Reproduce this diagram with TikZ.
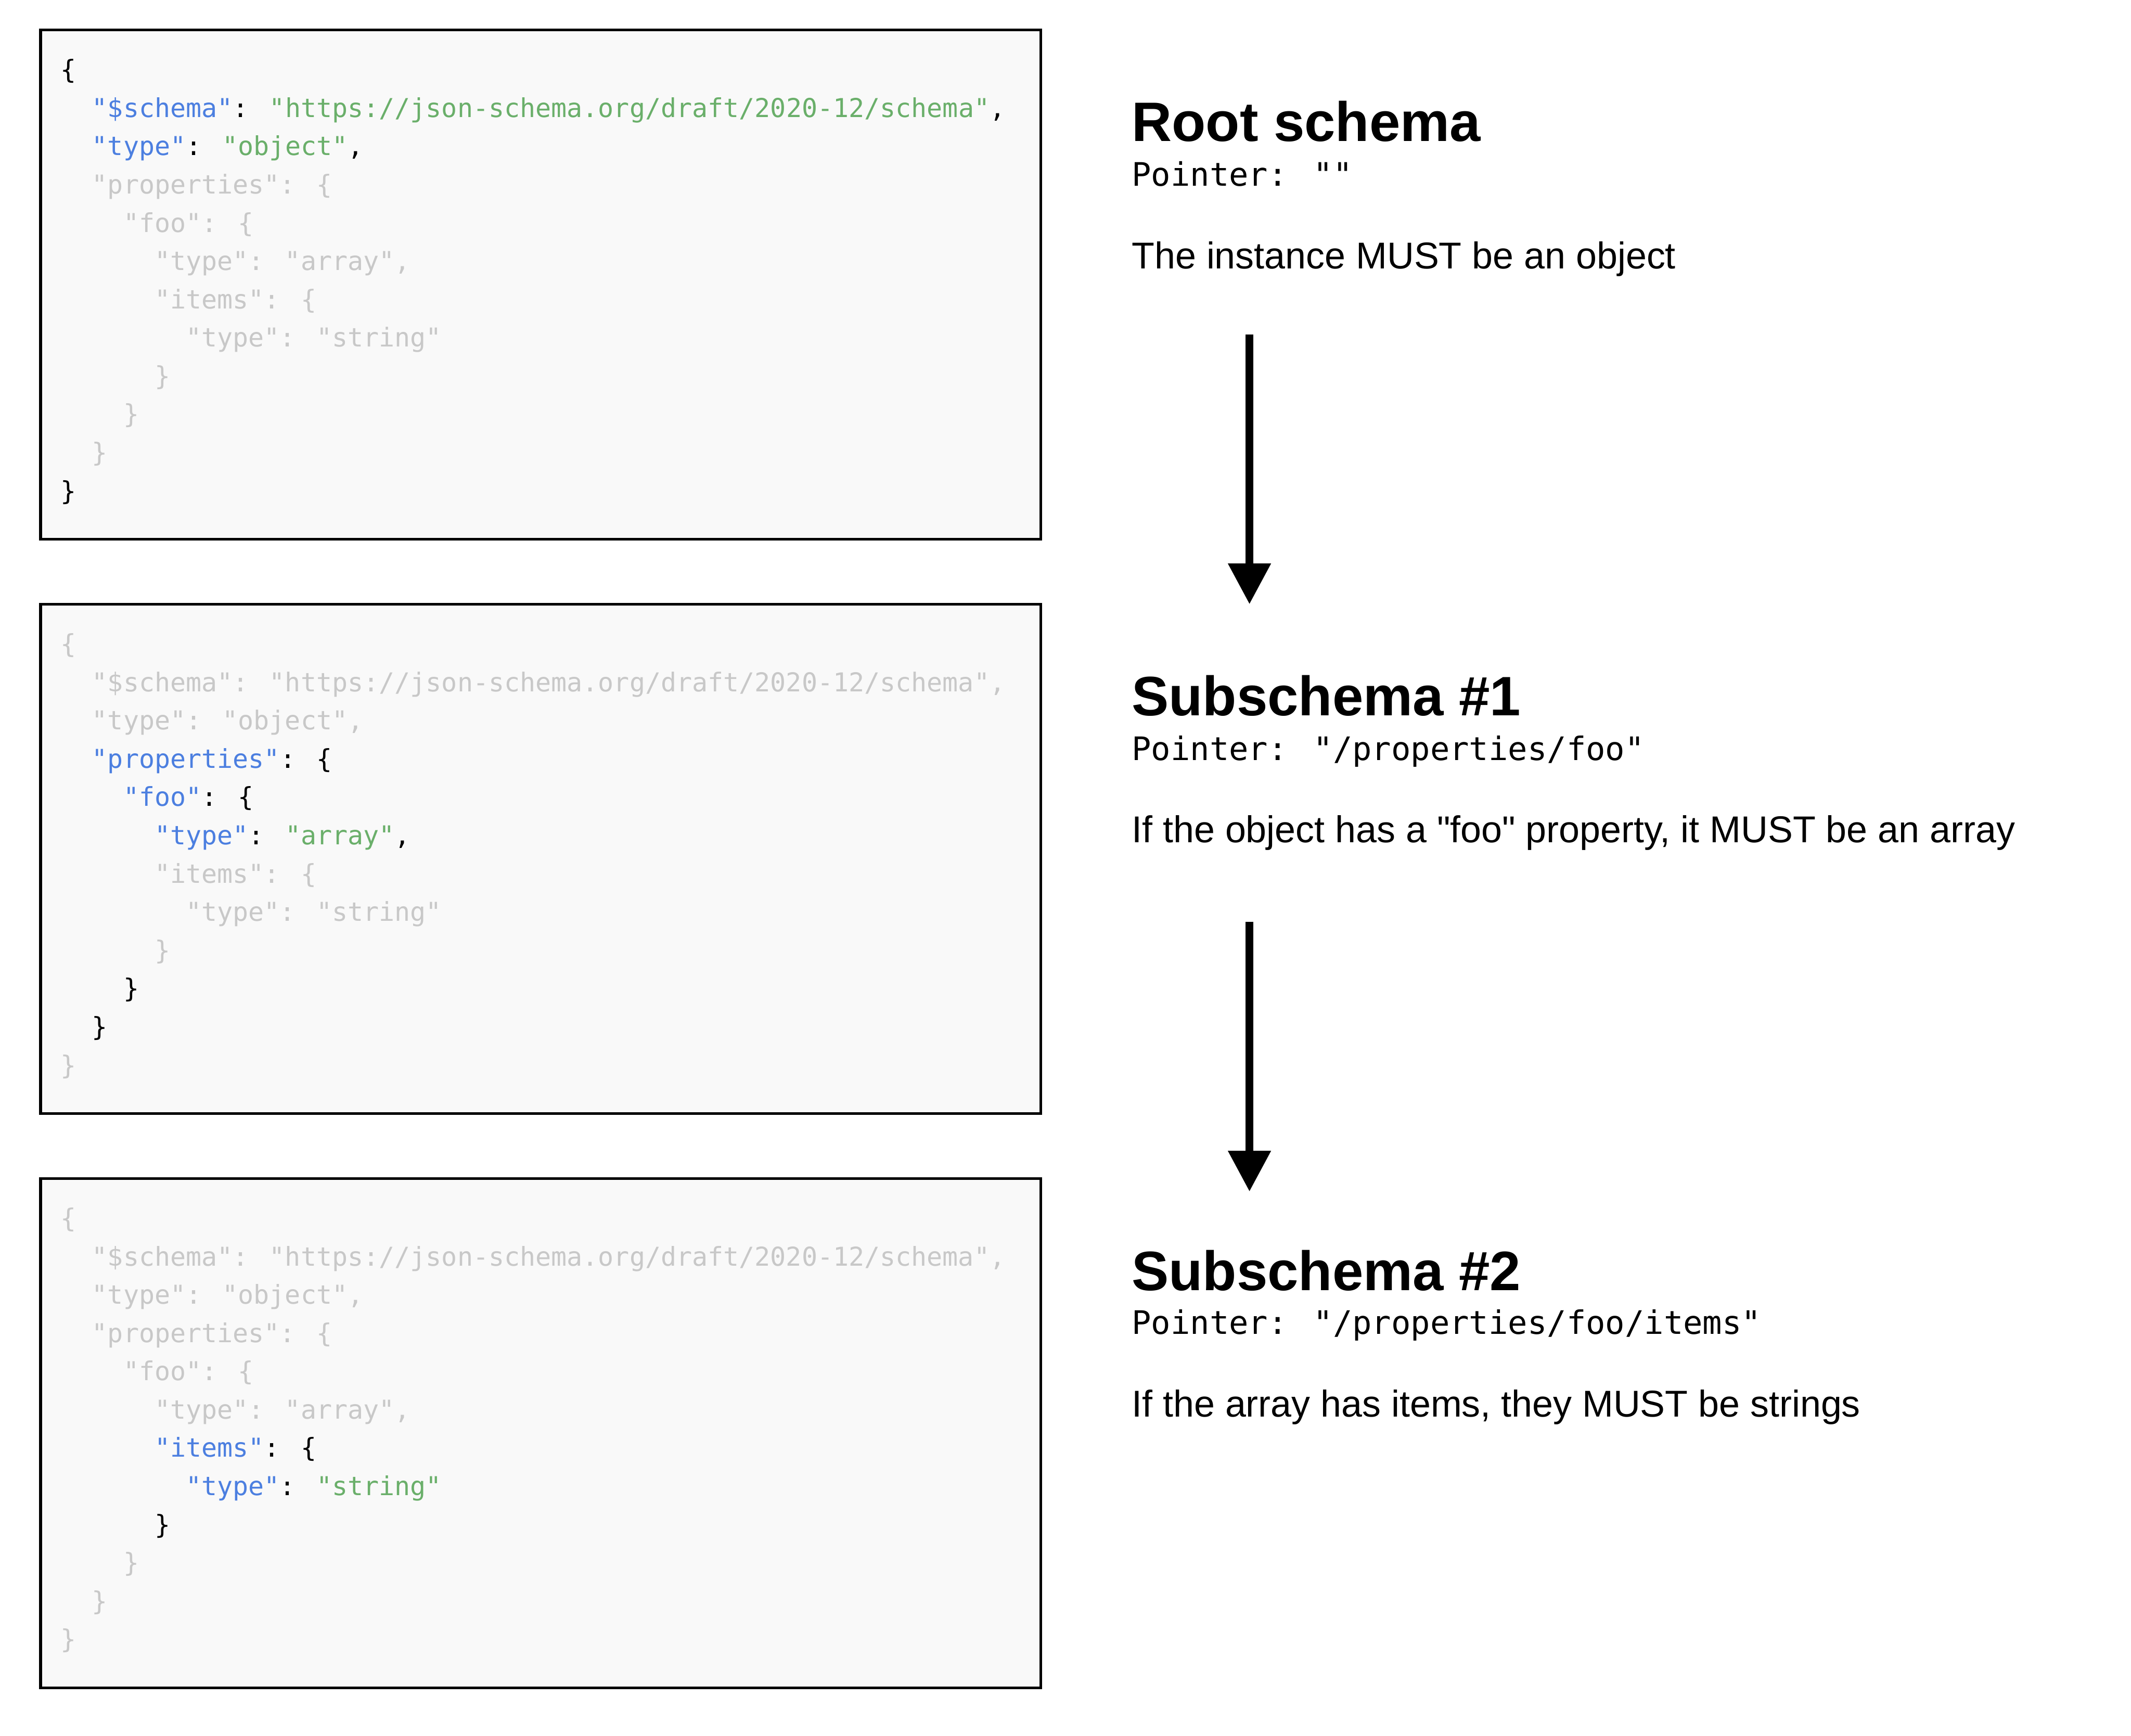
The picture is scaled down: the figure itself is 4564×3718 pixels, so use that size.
\documentclass[tikz,border=0pt]{standalone}
\usepackage{fontspec}
\setmainfont{Liberation Sans}[Ligatures=TeXOff]
\newfontfamily\codefont{DejaVu Sans Mono}[Ligatures=TeXOff]
\usetikzlibrary{arrows.meta}
\definecolor{jkeyc}{HTML}{4C7FE0}
\definecolor{jstrc}{HTML}{6AAF6A}
\definecolor{jgrayc}{HTML}{C8C8C8}
\definecolor{boxfill}{HTML}{F9F9F9}
\newcommand\jk[1]{\textcolor{jkeyc}{#1}}
\newcommand\js[1]{\textcolor{jstrc}{#1}}
\newcommand\jg[1]{\textcolor{jgrayc}{#1}}
% name, box top, indent (chars), line number, text
\newcommand\cln[5]{\node[codeln] (#1) at ({130+#3*33.53},{#2+105+(#4-1)*82}) {#5};}
\begin{document}
\begin{tikzpicture}[x=0.2pt,y=-0.2pt,
  codebox/.style={draw=black, fill=boxfill, line width=1.2pt, rectangle,
    minimum width=428.4pt, minimum height=218.2pt, inner sep=0pt, outer sep=0pt, anchor=north west},
  codeln/.style={anchor=base west, inner sep=0pt, outer sep=0pt,
    font=\codefont\fontsize{11.14pt}{13pt}\selectfont},
  headtxt/.style={anchor=base west, inner sep=0pt, outer sep=0pt,
    font=\bfseries\fontsize{23.8pt}{28pt}\selectfont},
  ptrtxt/.style={anchor=base west, inner sep=0pt, outer sep=0pt,
    font=\codefont\fontsize{13.85pt}{16pt}\selectfont},
  bodytxt/.style={anchor=base west, inner sep=0pt, outer sep=0pt,
    font=\fontsize{16pt}{19pt}\selectfont},
  flowarrow/.style={line width=3.2pt, -{Triangle[width=17.6pt,length=17.4pt]}}
  ]
\useasboundingbox (0,0) rectangle (4564,3718);
\fill[white] (0,0) rectangle (4564,3718);

% ---------- Box 1 (root) ----------
\node[codebox] (box1) at (87,64) {};
\cln{aA}{64}{0}{1}{\{}
\cln{aB}{64}{2}{2}{\jk{"\$schema"}: \js{"https://json-schema.org/draft/2020-12/schema"},}
\cln{aC}{64}{2}{3}{\jk{"type"}: \js{"object"},}
\cln{aD}{64}{2}{4}{\jg{"properties": \{}}
\cln{aE}{64}{4}{5}{\jg{"foo": \{}}
\cln{aF}{64}{6}{6}{\jg{"type": "array",}}
\cln{aG}{64}{6}{7}{\jg{"items": \{}}
\cln{aH}{64}{8}{8}{\jg{"type": "string"}}
\cln{aI}{64}{6}{9}{\jg{\}}}
\cln{aJ}{64}{4}{10}{\jg{\}}}
\cln{aK}{64}{2}{11}{\jg{\}}}
\cln{aL}{64}{0}{12}{\}}

% ---------- Box 2 (subschema #1) ----------
\node[codebox] (box2) at (87,1294) {};
\cln{bA}{1294}{0}{1}{\jg{\{}}
\cln{bB}{1294}{2}{2}{\jg{"\$schema": "https://json-schema.org/draft/2020-12/schema",}}
\cln{bC}{1294}{2}{3}{\jg{"type": "object",}}
\cln{bD}{1294}{2}{4}{\jk{"properties"}: \{}
\cln{bE}{1294}{4}{5}{\jk{"foo"}: \{}
\cln{bF}{1294}{6}{6}{\jk{"type"}: \js{"array"},}
\cln{bG}{1294}{6}{7}{\jg{"items": \{}}
\cln{bH}{1294}{8}{8}{\jg{"type": "string"}}
\cln{bI}{1294}{6}{9}{\jg{\}}}
\cln{bJ}{1294}{4}{10}{\}}
\cln{bK}{1294}{2}{11}{\}}
\cln{bL}{1294}{0}{12}{\jg{\}}}

% ---------- Box 3 (subschema #2) ----------
\node[codebox] (box3) at (87,2524) {};
\cln{cA}{2524}{0}{1}{\jg{\{}}
\cln{cB}{2524}{2}{2}{\jg{"\$schema": "https://json-schema.org/draft/2020-12/schema",}}
\cln{cC}{2524}{2}{3}{\jg{"type": "object",}}
\cln{cD}{2524}{2}{4}{\jg{"properties": \{}}
\cln{cE}{2524}{4}{5}{\jg{"foo": \{}}
\cln{cF}{2524}{6}{6}{\jg{"type": "array",}}
\cln{cG}{2524}{6}{7}{\jk{"items"}: \{}
\cln{cH}{2524}{8}{8}{\jk{"type"}: \js{"string"}}
\cln{cI}{2524}{6}{9}{\}}
\cln{cJ}{2524}{4}{10}{\jg{\}}}
\cln{cK}{2524}{2}{11}{\jg{\}}}
\cln{cL}{2524}{0}{12}{\jg{\}}}

% ---------- Right-hand descriptions ----------
\node[headtxt] (h1) at (2424,303) {Root schema};
\node[ptrtxt]  (p1) at (2424,398) {Pointer: ""};
\node[bodytxt] (d1) at (2424,575) {The instance MUST be an object};

\node[headtxt] (h2) at (2424,1533) {Subschema \#1};
\node[ptrtxt]  (p2) at (2424,1629) {Pointer: "/properties/foo"};
\node[bodytxt] (d2) at (2424,1805) {If the object has a "foo" property, it MUST be an array};

\node[headtxt] (h3) at (2424,2764) {Subschema \#2};
\node[ptrtxt]  (p3) at (2424,2858) {Pointer: "/properties/foo/items"};
\node[bodytxt] (d3) at (2424,3035) {If the array has items, they MUST be strings};

% ---------- Arrows ----------
\coordinate (ar1s) at (2676,717);
\coordinate (ar1e) at (2676,1294);
\coordinate (ar2s) at (2676,1974);
\coordinate (ar2e) at (2676,2552);
\draw[flowarrow] (ar1s) -- (ar1e);
\draw[flowarrow] (ar2s) -- (ar2e);
\end{tikzpicture}
\end{document}
